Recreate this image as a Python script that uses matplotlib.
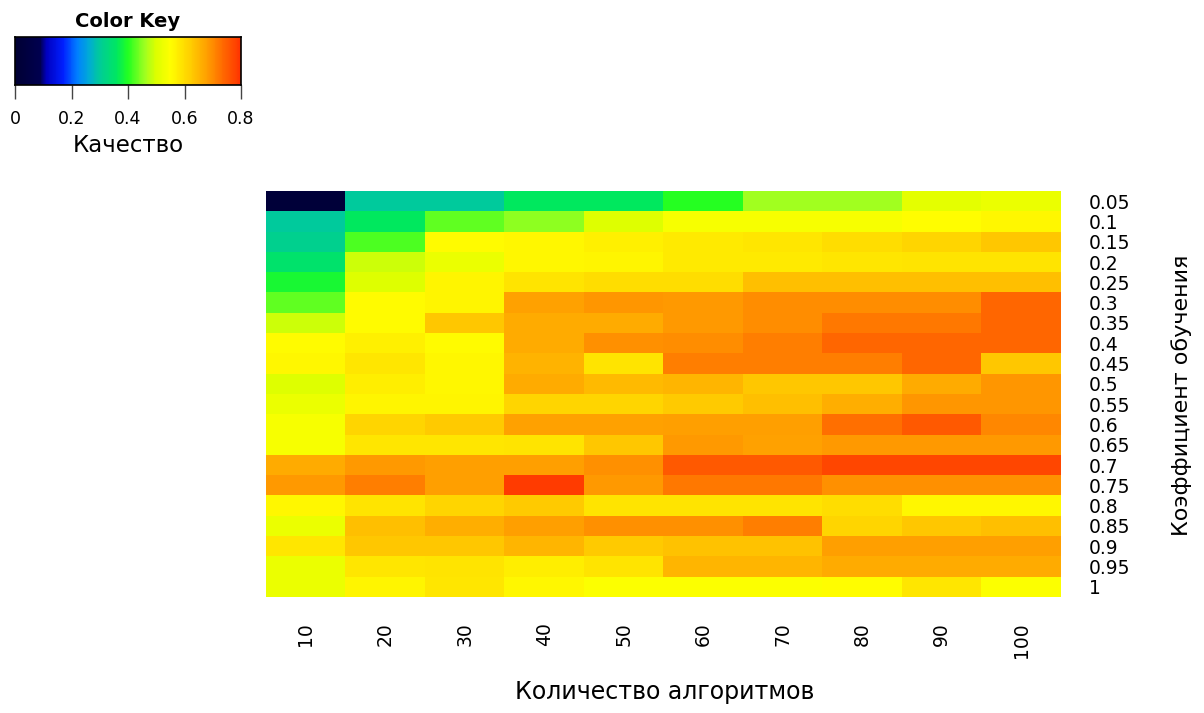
import numpy as np
import matplotlib
matplotlib.use("Agg")
import matplotlib.pyplot as plt
from matplotlib.colors import LinearSegmentedColormap

n_algorithms = [10, 20, 30, 40, 50, 60, 70, 80, 90, 100]
learning_rates = ["0.05", "0.1", "0.15", "0.2", "0.25", "0.3", "0.35", "0.4", "0.45", "0.5",
                  "0.55", "0.6", "0.65", "0.7", "0.75", "0.8", "0.85", "0.9", "0.95", "1"]

row_005 = [0.02, 0.30, 0.30, 0.36, 0.36, 0.40, 0.46, 0.46, 0.51, 0.52]
row_010 = [0.30, 0.36, 0.43, 0.45, 0.50, 0.54, 0.54, 0.54, 0.55, 0.56]
row_015 = [0.31, 0.42, 0.555, 0.56, 0.57, 0.58, 0.585, 0.60, 0.61, 0.63]
row_020 = [0.35, 0.49, 0.52, 0.56, 0.565, 0.58, 0.58, 0.585, 0.59, 0.59]
row_025 = [0.39, 0.50, 0.565, 0.59, 0.60, 0.60, 0.64, 0.64, 0.64, 0.64]
row_030 = [0.43, 0.555, 0.565, 0.675, 0.69, 0.685, 0.70, 0.70, 0.70, 0.74]
row_035 = [0.49, 0.555, 0.63, 0.665, 0.665, 0.685, 0.70, 0.72, 0.72, 0.74]
row_040 = [0.555, 0.57, 0.555, 0.665, 0.695, 0.70, 0.715, 0.74, 0.74, 0.74]
row_045 = [0.56, 0.585, 0.56, 0.655, 0.59, 0.715, 0.715, 0.715, 0.74, 0.63]
row_050 = [0.50, 0.575, 0.56, 0.665, 0.645, 0.65, 0.63, 0.63, 0.665, 0.69]
row_055 = [0.52, 0.565, 0.565, 0.61, 0.61, 0.625, 0.64, 0.66, 0.69, 0.69]
row_060 = [0.54, 0.61, 0.625, 0.675, 0.675, 0.68, 0.68, 0.73, 0.755, 0.705]
row_065 = [0.54, 0.585, 0.585, 0.59, 0.63, 0.685, 0.675, 0.685, 0.685, 0.685]
row_070 = [0.665, 0.685, 0.68, 0.68, 0.695, 0.755, 0.755, 0.775, 0.775, 0.775]
row_075 = [0.685, 0.715, 0.68, 0.79, 0.685, 0.72, 0.72, 0.695, 0.695, 0.695]
row_080 = [0.56, 0.59, 0.61, 0.625, 0.59, 0.59, 0.59, 0.60, 0.56, 0.56]
row_085 = [0.52, 0.64, 0.66, 0.68, 0.695, 0.695, 0.715, 0.61, 0.63, 0.64]
row_090 = [0.585, 0.63, 0.63, 0.65, 0.625, 0.635, 0.635, 0.68, 0.68, 0.68]
row_095 = [0.52, 0.585, 0.59, 0.575, 0.59, 0.65, 0.65, 0.665, 0.665, 0.665]
row_100 = [0.52, 0.565, 0.585, 0.56, 0.545, 0.545, 0.545, 0.55, 0.585, 0.545]

data = np.array([row_005, row_010, row_015, row_020, row_025, row_030, row_035, row_040,
                 row_045, row_050, row_055, row_060, row_065, row_070, row_075, row_080,
                 row_085, row_090, row_095, row_100])

key_ticks = [0, 0.2, 0.4, 0.6, 0.8]
key_labels = ["0", "0.2", "0.4", "0.6", "0.8"]
vmin, vmax = 0.0, 0.8

anchors = [(0.00, "#000033"), (0.09, "#000050"), (0.11, "#0000C0"), (0.17, "#0020FF"),
           (0.22, "#0080FF"), (0.26, "#00AAD8"), (0.30, "#00CC99"), (0.36, "#00E860"),
           (0.40, "#22FF22"), (0.46, "#A0FF20"), (0.50, "#DDFF00"), (0.55, "#FFFF00"),
           (0.62, "#FFD000"), (0.68, "#FFA000"), (0.73, "#FF7000"), (0.80, "#FF3300")]
cmap = LinearSegmentedColormap.from_list(
    "key", [(v / vmax, c) for v, c in anchors])

W, H = 1204, 713
fig = plt.figure(figsize=(W / 100, H / 100), dpi=100)
fs_tick = 13.5

def fx(px):
    return px / W

def fy(py):
    return 1 - py / H

# main heatmap
ax = fig.add_axes([fx(266), fy(597), fx(1061 - 266), (597 - 191) / H])
ax.imshow(data, cmap=cmap, vmin=vmin, vmax=vmax, aspect="auto", interpolation="nearest")
for s in ax.spines.values():
    s.set_visible(False)
ax.set_xticks(range(len(n_algorithms)))
ax.set_xticklabels([str(v) for v in n_algorithms], rotation=90, fontsize=fs_tick)
ax.set_yticks(range(len(learning_rates)))
ax.set_yticklabels(learning_rates, fontsize=fs_tick)
ax.yaxis.tick_right()
ax.tick_params(axis="y", length=0, pad=20)
ax.tick_params(axis="x", length=0, pad=18)

fig.text(fx(665), fy(692), "Количество алгоритмов", ha="center", va="center", fontsize=17)
fig.text(fx(1182), fy(395), "Коэффициент обучения", ha="center", va="center",
         rotation=90, fontsize=16)

# color key
kax = fig.add_axes([fx(15), fy(85), fx(241 - 15), (85 - 37) / H])
grad = np.linspace(vmin, vmax, 256).reshape(1, -1)
kax.imshow(grad, cmap=cmap, vmin=vmin, vmax=vmax, aspect="auto",
           extent=[vmin, vmax, 0, 1], interpolation="nearest")
kax.set_xlim(vmin, vmax)
kax.set_yticks([])
kax.set_xticks(key_ticks)
kax.set_xticklabels(key_labels, fontsize=12.5)
kax.tick_params(axis="x", length=10, width=1, pad=8, color="#444444")
for s in kax.spines.values():
    s.set_linewidth(1.2)
kax.set_title("Color Key", fontsize=14, fontweight="bold", pad=7)
kax.set_xlabel("Качество", fontsize=16.5, labelpad=4)

fig.savefig("out.png", dpi=100)
